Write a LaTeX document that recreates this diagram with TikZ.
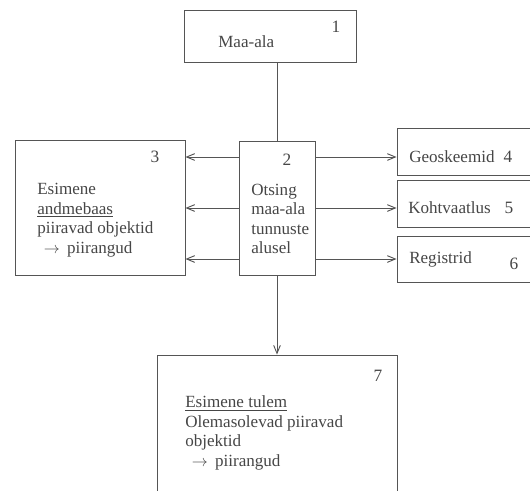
\documentclass[tikz,border=0pt]{standalone}
\usepackage{fontspec}
\setmainfont{Liberation Serif}
\usepackage{tikz}
\usetikzlibrary{positioning,calc,arrows.meta}
\definecolor{InkGray}{RGB}{85,85,85}
\definecolor{TextGray}{RGB}{70,70,70}
\tikzset{
  box/.style={draw=InkGray,line width=0.7pt,inner sep=0pt},
  txt/.style={text=TextGray,inner sep=0pt,align=left,anchor=west,
    font=\fontsize{12.8}{14.6}\selectfont},
  num/.style={text=TextGray,inner sep=0pt,font=\fontsize{13}{14}\selectfont},
  link/.style={draw=InkGray,line width=0.7pt},
  arr/.style={link,-{Straight Barb[length=6pt,width=5pt]}},
}

\begin{document}
\begin{tikzpicture}[x=0.75pt,y=-0.75pt]
        \useasboundingbox (0,0) rectangle (530,490);
        % boxes
        \node[box,minimum width=129pt,minimum height=39pt] (b1) at (270,36) {};
        \node[box,minimum width=57pt,minimum height=100.5pt] (b2) at (277,208) {};
        \node[box,minimum width=127.5pt,minimum height=101.25pt] (b3) at (100,207.5) {};
        \node[box,minimum width=103.5pt,minimum height=35.25pt] (b4) at (466,151.5) {};
        \node[box,minimum width=103.5pt,minimum height=35.25pt] (b5) at (466,204) {};
        \node[box,minimum width=103.5pt,minimum height=34.5pt] (b6) at (466,259) {};
        \node[box,minimum width=180pt,minimum height=105pt] (b7) at (277,425) {};
        % numbers
        \node[num] (n1) at (336,27) {1};
        \node[num] (n2) at (287,160) {2};
        \node[num] (n3) at (155,157) {3};
        \node[num] (n4) at (508,157) {4};
        \node[num] (n5) at (509,208) {5};
        \node[num] (n6) at (514,264) {6};
        \node[num] (n7) at (378,376) {7};
        % texts
        \node[txt] (t1) at (218,42) {Maa-ala};
        \node[txt] (t2) at (251,219) {Otsing\\maa-ala\\tunnuste\\alusel};
        \node[txt] (t3) at (37,220) {Esimene\\\underline{andmebaas}\\piiravad objektid\\
          \hspace*{5pt}$\rightarrow$\, piirangud};
        \node[txt] (t4) at (409,157) {Geoskeemid};
        \node[txt] (t5) at (408,208) {Kohtvaatlus};
        \node[txt] (t6) at (409,259) {Registrid};
        \node[txt] (t7) at (185,433) {\underline{Esimene tulem}\\Olemasolevad piiravad\\objektid\\
          \hspace*{5pt}$\rightarrow$\, piirangud};
        % connectors
        \draw[link] (b2.north) -- (b2.north |- b1.south);
        \foreach \yy in {157,208,259} {
          \draw[arr] (b2.west |- 0,\yy) -- (b3.east |- 0,\yy);
          \draw[arr] (b2.east |- 0,\yy) -- (b4.west |- 0,\yy);
        }
        \draw[arr] (b2.south) -- (b7.north);
      \end{tikzpicture}
\end{document}
